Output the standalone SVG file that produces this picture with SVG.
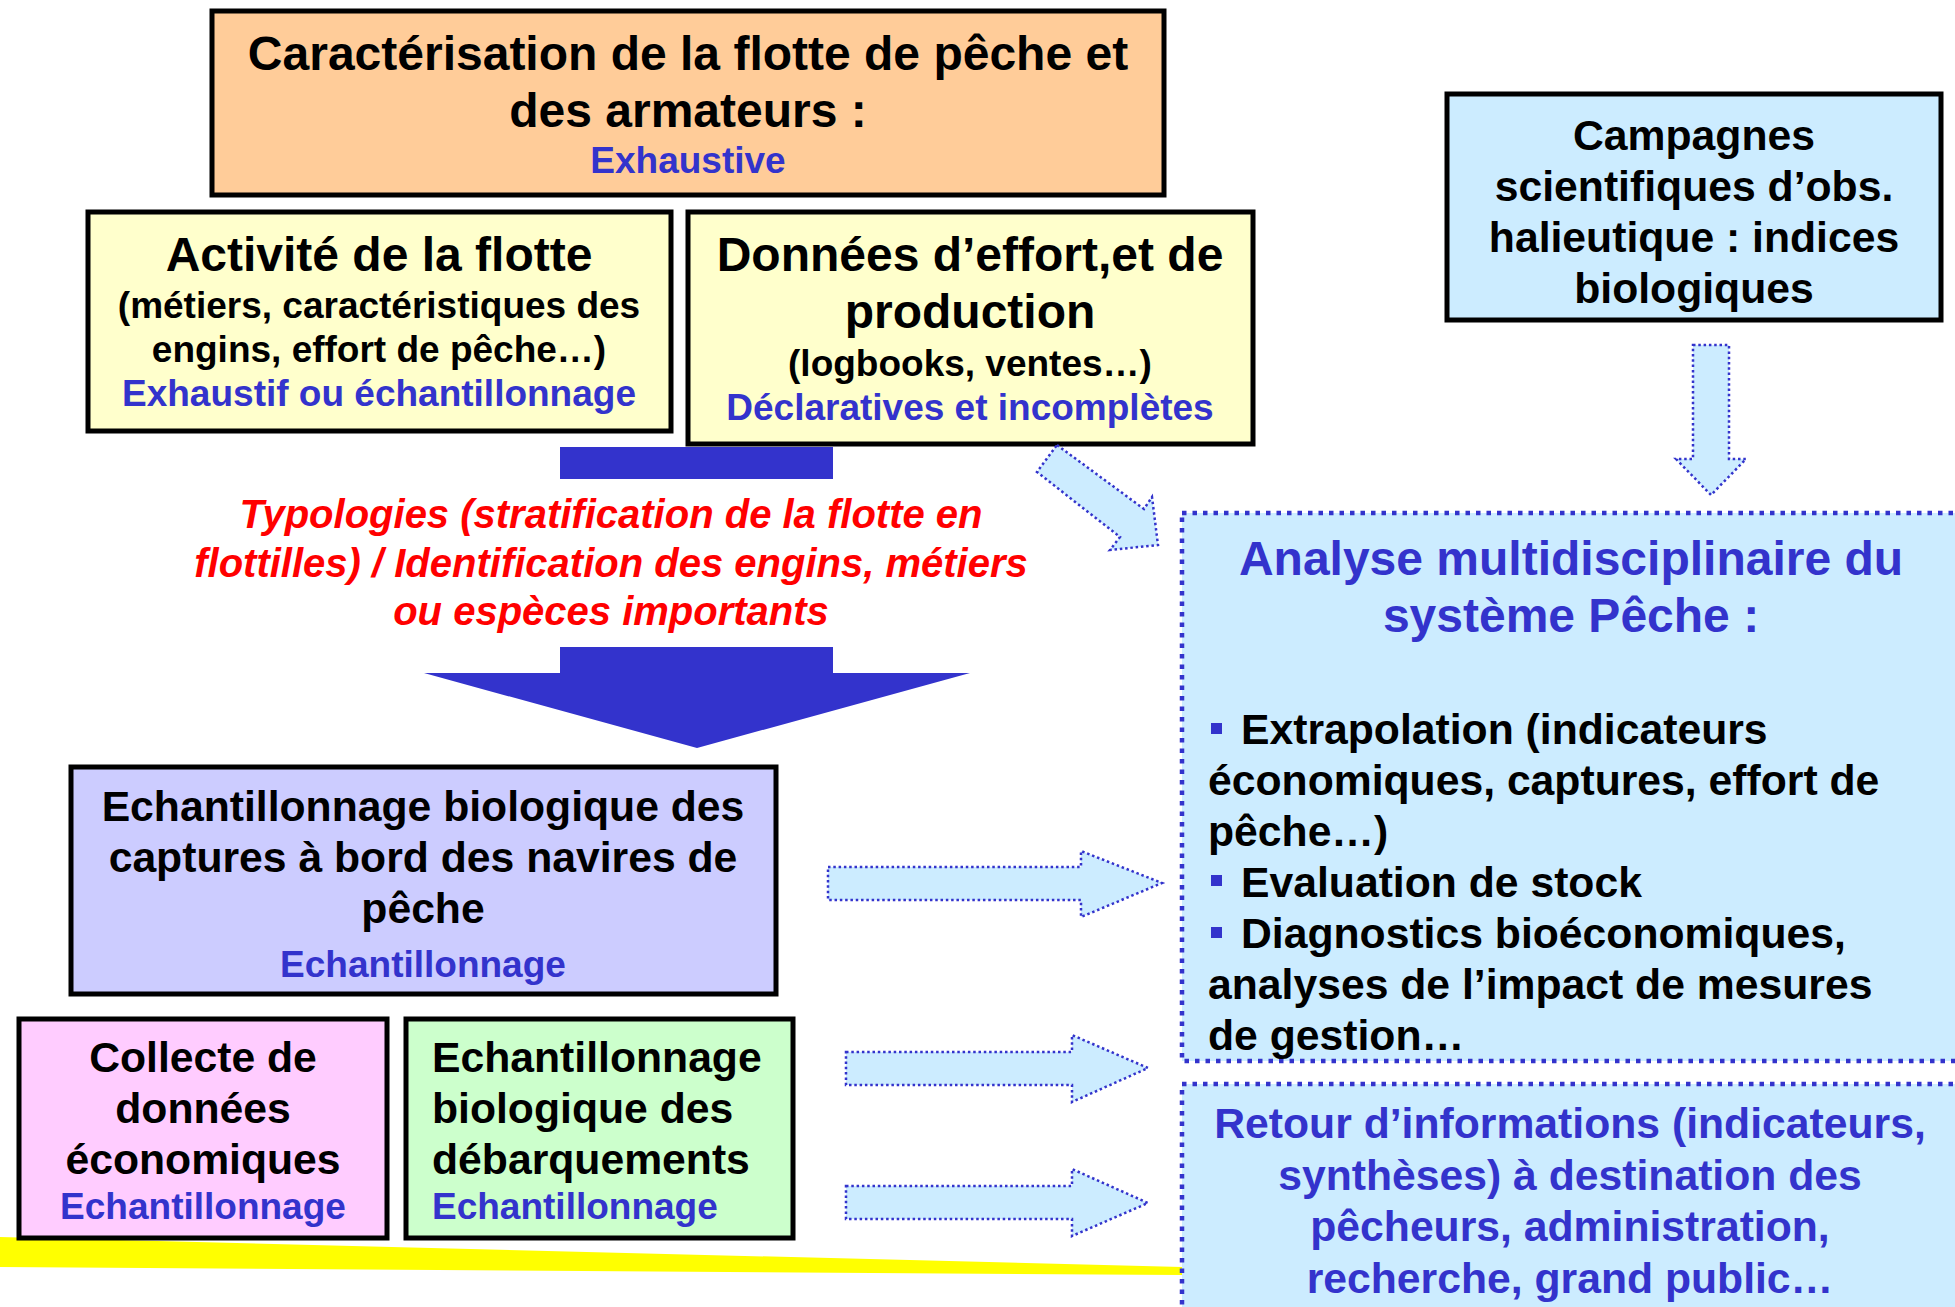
<svg xmlns="http://www.w3.org/2000/svg" width="1955" height="1307" viewBox="0 0 1955 1307">
<style>
text{font-family:"Liberation Sans",Arial,sans-serif;font-weight:bold;text-anchor:middle}
.box{stroke:#000;stroke-width:5}
.t47{font-size:48px;fill:#000}
.t42{font-size:42.7px;fill:#000}
.t37{font-size:37px;fill:#000}
.b37{font-size:37px;fill:#3333CC}
.b47{font-size:48px;fill:#3333CC}
.b42{font-size:42.7px;fill:#3333CC}
.red{font-size:40px;fill:#FF0000;font-style:italic}
.left{text-anchor:start}
.dbox{fill:#CCECFF;stroke:#3333CC;stroke-width:4.5;stroke-dasharray:4.5 6}
.darrow{fill:#CCECFF;stroke:#3333CC;stroke-width:2.5;stroke-dasharray:2.5 2.8}
</style>
<rect width="1955" height="1307" fill="#fff"/>
<polygon points="0,1237 1182,1267 1182,1275 0,1267" fill="#FFFF00"/>

<g id="analyse">
<rect class="dbox" x="1182" y="513" width="790" height="548"/>
<text class="b47" x="1571" y="575">Analyse multidisciplinaire du</text>
<text class="b47" x="1571" y="632">système Pêche :</text>
<rect x="1211" y="723" width="11" height="11" fill="#3333CC"/>
<text class="t42 left" x="1241" y="744">Extrapolation (indicateurs</text>
<text class="t42 left" x="1208" y="795">économiques, captures, effort de</text>
<text class="t42 left" x="1208" y="846">pêche…)</text>
<rect x="1211" y="875" width="11" height="11" fill="#3333CC"/>
<text class="t42 left" x="1241" y="897">Evaluation de stock</text>
<rect x="1211" y="927" width="11" height="11" fill="#3333CC"/>
<text class="t42 left" x="1241" y="948">Diagnostics bioéconomiques,</text>
<text class="t42 left" x="1208" y="999">analyses de l’impact de mesures</text>
<text class="t42 left" x="1208" y="1050">de gestion…</text>
</g>

<g id="retour">
<rect class="dbox" x="1182" y="1084" width="790" height="260"/>
<text class="b42" x="1570" y="1138">Retour d’informations (indicateurs,</text>
<text class="b42" x="1570" y="1190">synthèses) à destination des</text>
<text class="b42" x="1570" y="1241">pêcheurs, administration,</text>
<text class="b42" x="1570" y="1293">recherche, grand public…</text>
</g>

<g id="caracterisation">
<rect class="box" x="212" y="11" width="952" height="184" fill="#FFCC99"/>
<text class="t47" x="688" y="70">Caractérisation de la flotte de pêche et</text>
<text class="t47" x="688" y="127">des armateurs :</text>
<text class="b37" x="688" y="173">Exhaustive</text>
</g>

<g id="activite">
<rect class="box" x="88" y="212" width="583" height="219" fill="#FFFFCC"/>
<text class="t47" x="379" y="271">Activité de la flotte</text>
<text class="t37" x="379" y="318">(métiers, caractéristiques des</text>
<text class="t37" x="379" y="362">engins, effort de pêche…)</text>
<text class="b37" x="379" y="406">Exhaustif ou échantillonnage</text>
</g>

<g id="donnees">
<rect class="box" x="688" y="212" width="565" height="232" fill="#FFFFCC"/>
<text class="t47" x="970" y="271">Données d’effort,et de</text>
<text class="t47" x="970" y="328">production</text>
<text class="t37" x="970" y="376">(logbooks, ventes…)</text>
<text class="b37" x="970" y="420">Déclaratives et incomplètes</text>
</g>

<g id="campagnes">
<rect class="box" x="1447" y="94" width="494" height="226" fill="#CCECFF"/>
<text class="t42" x="1694" y="150">Campagnes</text>
<text class="t42" x="1694" y="201">scientifiques d’obs.</text>
<text class="t42" x="1694" y="252">halieutique : indices</text>
<text class="t42" x="1694" y="303">biologiques</text>
</g>

<g id="typologies">
<text class="red" x="611" y="528">Typologies (stratification de la flotte en</text>
<text class="red" x="611" y="577">flottilles) / Identification des engins, métiers</text>
<text class="red" x="611" y="625">ou espèces importants</text>
</g>

<g id="echant-bord">
<rect class="box" x="71" y="767" width="705" height="227" fill="#CCCCFF"/>
<text class="t42" x="423" y="821">Echantillonnage biologique des</text>
<text class="t42" x="423" y="872">captures à bord des navires de</text>
<text class="t42" x="423" y="923">pêche</text>
<text class="b37" x="423" y="977">Echantillonnage</text>
</g>

<g id="collecte">
<rect class="box" x="19" y="1019" width="368" height="219" fill="#FFCCFF"/>
<text class="t42" x="203" y="1072">Collecte de</text>
<text class="t42" x="203" y="1123">données</text>
<text class="t42" x="203" y="1174">économiques</text>
<text class="b37" x="203" y="1219">Echantillonnage</text>
</g>

<g id="debarquements">
<rect class="box" x="406" y="1019" width="387" height="219" fill="#CCFFCC"/>
<text class="t42 left" x="432" y="1072">Echantillonnage</text>
<text class="t42 left" x="432" y="1123">biologique des</text>
<text class="t42 left" x="432" y="1174">débarquements</text>
<text class="b37 left" x="432" y="1219">Echantillonnage</text>
</g>

<g id="connectors">
<rect x="560" y="447" width="273" height="32" fill="#3333CC"/>
<polygon points="560,647 833,647 833,673 970,673 697,748 424,673 560,673" fill="#3333CC"/>
<polygon class="darrow" points="1057,445 1144,509 1152,497 1158,545 1110,550 1120,537 1037,472"/>
<polygon class="darrow" points="1693,345 1729,345 1729,459 1746,459 1711,495 1676,459 1693,459"/>
<polygon class="darrow" points="828,867 1081,867 1081,851 1162,883 1081,917 1081,900 828,900"/>
<polygon class="darrow" points="846,1052 1072,1052 1072,1035 1148,1068 1072,1102 1072,1085 846,1085"/>
<polygon class="darrow" points="846,1186 1072,1186 1072,1169 1148,1203 1072,1236 1072,1219 846,1219"/>
</g>
</svg>
